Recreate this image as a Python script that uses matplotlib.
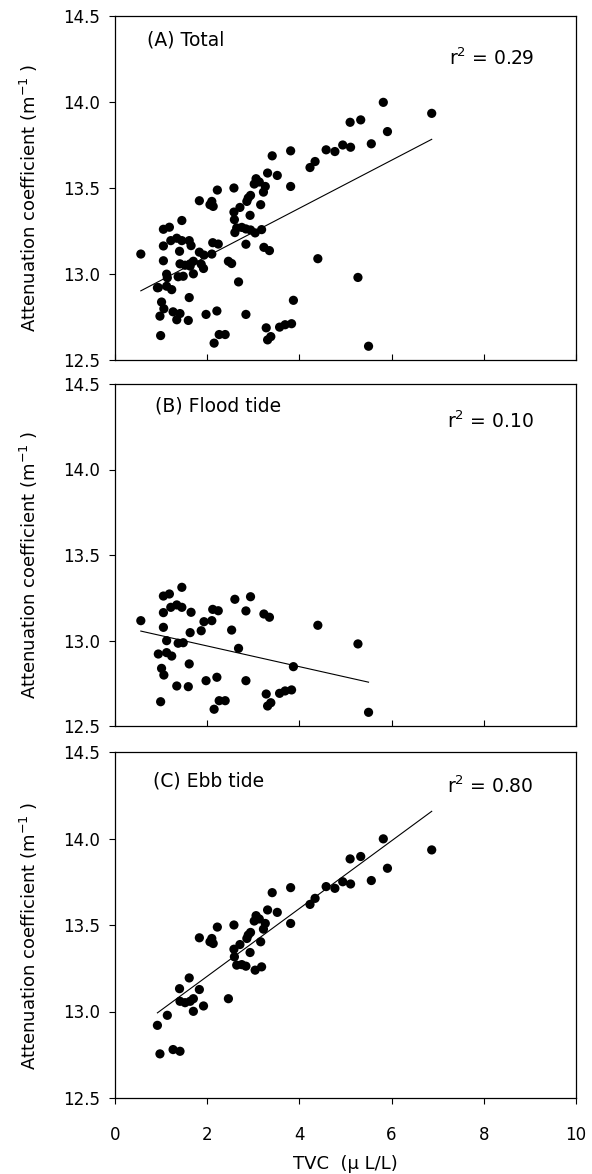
import numpy as np
import matplotlib
matplotlib.use("Agg")
import matplotlib.pyplot as plt

# ---------------- data ----------------
flood_x = [0.56, 1.05, 1.18, 1.45, 1.05, 1.21, 1.34, 1.45, 1.65, 1.05, 1.63, 1.12, 1.37,
           1.48, 0.94, 1.12, 1.23, 1.01, 1.06, 1.61, 1.34, 1.59, 0.99, 1.87, 1.93, 2.10,
           2.12, 2.24, 1.975, 2.21, 2.15, 2.26, 2.39, 2.53, 2.60, 2.94, 2.84, 2.68, 2.84,
           3.23, 3.35, 3.28, 3.31, 3.38, 3.57, 3.69, 3.83, 3.87, 4.40, 5.27, 5.50]
flood_y = [13.116, 13.260, 13.272, 13.311, 13.163, 13.194, 13.208, 13.194, 13.165, 13.077,
           13.046, 12.999, 12.984, 12.987, 12.921, 12.929, 12.909, 12.837, 12.798, 12.863,
           12.734, 12.730, 12.642, 13.057, 13.110, 13.116, 13.182, 13.174, 12.765, 12.785,
           12.598, 12.648, 12.648, 13.061, 13.241, 13.256, 13.173, 12.954, 12.765, 13.155,
           13.136, 12.687, 12.617, 12.636, 12.691, 12.705, 12.711, 12.847, 13.089, 12.980,
           12.580]

ebb_x = [0.92, 0.975, 1.135, 1.26, 1.41, 1.40, 1.61, 1.41, 1.52, 1.63, 1.70, 1.70, 1.83,
         1.92, 1.83, 2.06, 2.13, 2.10, 2.22, 2.46, 2.58, 2.58, 2.59, 2.64, 2.75, 2.84,
         2.71, 2.86, 2.89, 2.94, 2.93, 3.04, 3.18, 3.06, 3.13, 3.02, 3.26, 3.22, 3.16,
         3.31, 3.52, 3.41, 3.81, 3.81, 4.23, 4.34, 4.58, 4.77, 4.94, 5.11, 5.10, 5.33,
         5.56, 5.82, 5.91, 6.87]
ebb_y = [12.920, 12.755, 12.978, 12.780, 12.770, 13.132, 13.194, 13.059, 13.051, 13.059,
         13.074, 13.001, 13.127, 13.032, 13.426, 13.403, 13.393, 13.422, 13.488, 13.074,
         13.500, 13.360, 13.316, 13.268, 13.271, 13.262, 13.387, 13.422, 13.442, 13.457,
         13.341, 13.239, 13.258, 13.554, 13.535, 13.523, 13.509, 13.476, 13.403, 13.587,
         13.573, 13.687, 13.716, 13.509, 13.619, 13.654, 13.722, 13.712, 13.750, 13.737,
         13.882, 13.896, 13.757, 13.998, 13.828, 13.934]

total_x = flood_x + ebb_x
total_y = flood_y + ebb_y

panel_titles = ["(A) Total", "(B) Flood tide", "(C) Ebb tide"]
r2_labels = ["0.29", "0.10", "0.80"]
fit_slopes = [0.1396, -0.0605, 0.1958]
fit_intercepts = [12.824, 13.089, 12.812]

x_ticks = [0, 2, 4, 6, 8, 10]
y_ticks = [12.5, 13.0, 13.5, 14.0, 14.5]

datasets = [(total_x, total_y), (flood_x, flood_y), (ebb_x, ebb_y)]

# ---------------- layout ----------------
W, H = 592, 1174
fig = plt.figure(figsize=(W / 100, H / 100), dpi=100)
plt.rcParams['font.family'] = ['DejaVu Sans']

left_px, right_px = 115, 576
panel_px = [(16, 360), (384, 726), (752, 1098)]
title_pos = [(0.069, 0.930), (0.087, 0.936), (0.083, 0.917)]
r2_pos = [(0.725, 0.858), (0.720, 0.870), (0.720, 0.882)]

for i, ((top, bot), (xs, ys)) in enumerate(zip(panel_px, datasets)):
    ax = fig.add_axes([left_px / W, 1 - bot / H, (right_px - left_px) / W, (bot - top) / H])
    ax.scatter(xs, ys, s=44, color='black', edgecolors='none', zorder=3)
    xr = np.array([min(xs), max(xs)])
    ax.plot(xr, fit_intercepts[i] + fit_slopes[i] * xr, color='black', lw=0.8, zorder=2)
    ax.set_xlim(0, 10)
    ax.set_ylim(12.5, 14.5)
    ax.set_xticks(x_ticks)
    ax.set_yticks(y_ticks)
    ax.set_yticklabels([f"{v:.1f}" for v in y_ticks])
    for sp in ax.spines.values():
        sp.set_linewidth(0.9)
        sp.set_color('black')
    ax.tick_params(axis='y', direction='out', length=4, width=0.8, labelsize=12, pad=7)
    if i < 2:
        ax.tick_params(axis='x', direction='in', length=4, width=0.8, labelbottom=False)
    else:
        ax.tick_params(axis='x', direction='out', length=4, width=0.8, labelsize=12, pad=16)
        ax.set_xticklabels([str(v) for v in x_ticks])
        ax.set_xlabel("TVC  (\u03bc L/L)", fontsize=13, labelpad=8)
    ax.set_ylabel("Attenuation coefficient (m$^{-1}$ )", fontsize=13)
    ax.yaxis.set_label_coords(-0.163, 0.47)
    ax.text(title_pos[i][0], title_pos[i][1], panel_titles[i], transform=ax.transAxes,
            fontsize=13.5, va='center', ha='left')
    ax.text(r2_pos[i][0], r2_pos[i][1], "r$^{2}$ = " + r2_labels[i], transform=ax.transAxes,
            fontsize=13.5, va='baseline', ha='left')

fig.savefig("out.png", dpi=100)
